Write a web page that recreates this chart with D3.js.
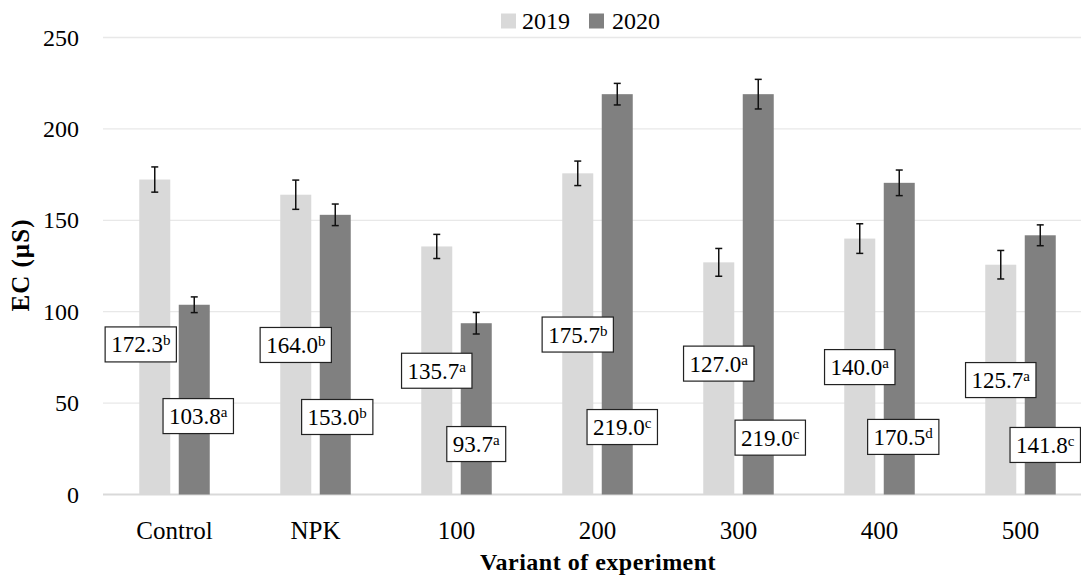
<!DOCTYPE html>
<html><head><meta charset="utf-8">
<script src="https://cdn.jsdelivr.net/npm/d3@7"></script>
<style>body{margin:0;background:#fff}svg{display:block}text{font-family:"Liberation Serif","Times New Roman",serif;fill:#000}</style>
</head><body><svg id="c" width="1081" height="581"></svg>
<script>
const categories = ["Control","NPK","100","200","300","400","500"];
const seriesNames = ["2019","2020"];
const values2019 = [172.3,164.0,135.7,175.7,127.0,140.0,125.7];
const values2020 = [103.8,153.0,93.7,219.0,219.0,170.5,141.8];
const err2019 = [6.9,8.0,6.6,6.7,7.6,8.1,7.8];
const err2020 = [4.3,5.9,5.9,5.9,8.1,7.0,5.7];
const letters2019 = ["b","b","a","b","a","a","a"];
const letters2020 = ["a","b","a","c","c","d","c"];
const labelY2019 = [82.1,81.8,67.7,87.5,71.6,69.7,62.6];
const labelY2020 = [42.9,42.4,27.6,36.9,31.1,31.5,27.1];
const yTicks = [0,50,100,150,200,250];

const colors = {"2019":"#d9d9d9","2020":"#808080"};
const labelDx = {"2019":[-14,0,0,0,0,0,0],"2020":[4,2,0,5,12,4,5]};

const svg = d3.select("#c");
const y = d3.scaleLinear().domain([0,250]).range([494.5,37.5]);
const x0 = d3.scaleBand().domain(categories).range([104,1091]).paddingInner(0.5).paddingOuter(0.25);
const x1 = d3.scaleBand().domain(seriesNames).range([0,x0.bandwidth()]).paddingInner(0.215);

// gridlines
svg.append("g").selectAll("line").data(yTicks).join("line")
  .attr("x1",103).attr("x2",1081).attr("y1",d=>y(d)).attr("y2",d=>y(d))
  .attr("stroke",d=>d===0?"#d9d9d9":"#e8e8e8").attr("stroke-width",d=>d===0?2:1.3);

// y axis labels
const yAxis = d3.axisLeft(y).tickValues(yTicks).tickSize(0).tickPadding(0);
const ga = svg.append("g").attr("transform","translate(79,0)").call(yAxis);
ga.select(".domain").remove();
ga.selectAll("text").attr("font-size",24).attr("font-family","Liberation Serif").attr("fill","#000");

// x axis labels
const xAxis = d3.axisBottom(x0).tickSize(0).tickPadding(0);
const gx = svg.append("g").attr("transform","translate(0,521)").call(xAxis);
gx.select(".domain").remove();
gx.selectAll("text").attr("font-size",25).attr("font-family","Liberation Serif").attr("fill","#000").attr("dy","0.71em");

const rows = categories.map((c,i)=>({c,i,items:[
  {s:"2019",v:values2019[i],e:err2019[i],l:letters2019[i],ly:labelY2019[i]},
  {s:"2020",v:values2020[i],e:err2020[i],l:letters2020[i],ly:labelY2020[i]}]}));

const groups = svg.append("g").selectAll("g").data(rows).join("g")
  .attr("transform",d=>`translate(${x0(d.c)},0)`);

groups.selectAll("rect").data(d=>d.items).join("rect")
  .attr("x",d=>x1(d.s)).attr("width",x1.bandwidth())
  .attr("y",d=>y(d.v)).attr("height",d=>y(0)-y(d.v)).attr("fill",d=>colors[d.s]);

// error bars
const eb = groups.selectAll("g.eb").data(d=>d.items).join("g").attr("class","eb");
eb.append("line").attr("x1",d=>x1(d.s)+x1.bandwidth()/2).attr("x2",d=>x1(d.s)+x1.bandwidth()/2)
  .attr("y1",d=>y(d.v+d.e)).attr("y2",d=>y(d.v-d.e)).attr("stroke","#111").attr("stroke-width",1.5);
eb.append("line").attr("x1",d=>x1(d.s)+x1.bandwidth()/2-3.5).attr("x2",d=>x1(d.s)+x1.bandwidth()/2+3.5)
  .attr("y1",d=>y(d.v+d.e)).attr("y2",d=>y(d.v+d.e)).attr("stroke","#111").attr("stroke-width",1.5);
eb.append("line").attr("x1",d=>x1(d.s)+x1.bandwidth()/2-3.5).attr("x2",d=>x1(d.s)+x1.bandwidth()/2+3.5)
  .attr("y1",d=>y(d.v-d.e)).attr("y2",d=>y(d.v-d.e)).attr("stroke","#111").attr("stroke-width",1.5);

// labels
rows.forEach(r=>{
  r.items.forEach(it=>{
    const cx = x0(r.c)+x1(it.s)+x1.bandwidth()/2 + labelDx[it.s][r.i];
    const cy = y(it.ly);
    const g = svg.append("g");
    const rect = g.append("rect").attr("fill","#fff").attr("stroke","#222").attr("stroke-width",1.2);
    const t = g.append("text").attr("x",cx).attr("y",cy+8).attr("font-size",23).attr("text-anchor","middle");
    t.append("tspan").text(it.v.toFixed(1));
    t.append("tspan").attr("font-size",15).attr("dy",-7).text(it.l);
    const w = t.node().getComputedTextLength();
    const bw = w+12;
    rect.attr("x",cx-bw/2).attr("y",cy-17.5).attr("width",bw).attr("height",35);
  });
});

// legend
const leg = svg.append("g");
[["2019",501,522],["2020",589,612]].forEach(([s,rx,tx])=>{
  leg.append("rect").attr("x",rx).attr("y",13.5).attr("width",15).attr("height",15).attr("fill",colors[s]);
  leg.append("text").attr("x",tx).attr("y",28.5).attr("font-size",24).text(s);
});

// axis titles
svg.append("text").attr("transform","translate(29,265) rotate(-90)").attr("text-anchor","middle")
  .attr("font-size",25).attr("font-weight","bold").attr("letter-spacing",1).text("EC (µS)");
svg.append("text").attr("x",598).attr("y",570).attr("text-anchor","middle")
  .attr("font-size",24).attr("font-weight","bold").attr("letter-spacing",0.5).text("Variant of experiment");
</script></body></html>
